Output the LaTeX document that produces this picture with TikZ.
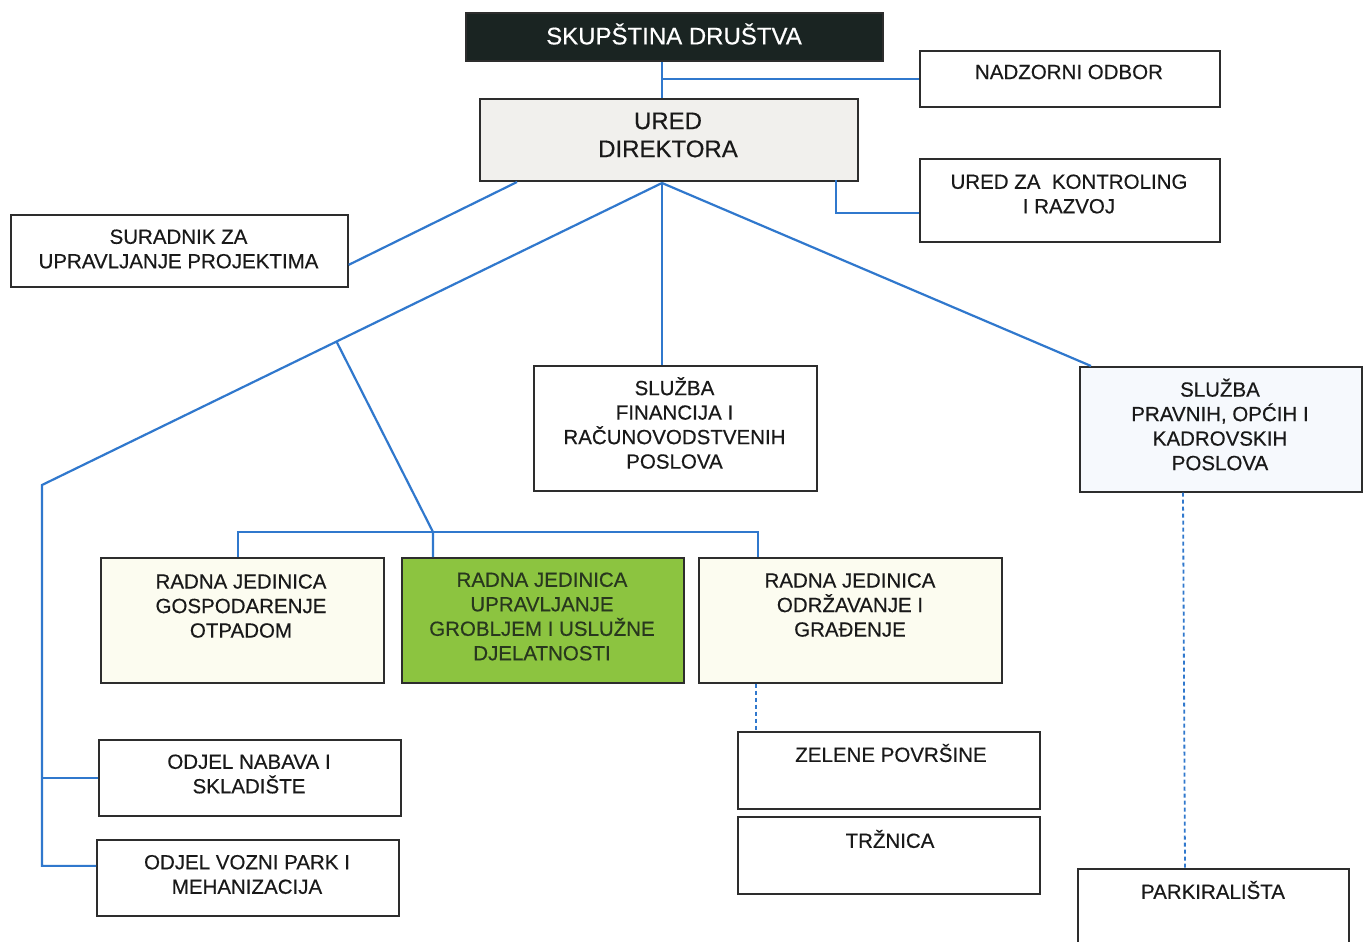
\documentclass[tikz,border=0pt]{standalone}
\usepackage{fontspec}
\setmainfont{Liberation Sans}[FakeBold=0.4]
\usetikzlibrary{calc}
\definecolor{linkblue}{RGB}{48,120,205}
\definecolor{boxline}{RGB}{45,45,45}
\definecolor{darkbox}{RGB}{26,36,34}
\definecolor{uredfill}{RGB}{241,240,237}
\definecolor{pravfill}{RGB}{246,249,253}
\definecolor{creamfill}{RGB}{252,252,240}
\definecolor{greenfill}{RGB}{140,196,64}
\definecolor{greentext}{RGB}{40,55,30}
\begin{document}
\begin{tikzpicture}[x=1pt,y=-1pt,
  box/.style={draw=boxline, line width=1.7pt, fill=white, anchor=north west, inner sep=0pt},
  txt/.style={inner sep=0pt, align=center, text=black!90, font=\fontsize{20.5}{24.5}\selectfont},
  link/.style={draw=linkblue, line width=2.2pt},
  dlink/.style={draw=linkblue, line width=1.8pt, dash pattern=on 4pt off 3pt}]
\useasboundingbox (0,0) rectangle (1368,942);
\fill[white] (0,0) rectangle (1368,942);

% boxes
\node[box, fill=darkbox, minimum width=417pt, minimum height=48pt] (skup) at (465,12) {};
\node[txt, text=white, font=\fontsize{24}{28}\selectfont] (skupT) at (674,34) {SKUP\v{S}TINA DRU\v{S}TVA};
\node[box, minimum width=300pt, minimum height=56pt] (nadz) at (919,50) {};
\node[txt] (nadzT) at (1069,72) {NADZORNI ODBOR};
\node[box, fill=uredfill, minimum width=378pt, minimum height=82pt] (ured) at (479,98) {};
\node[txt, font=\fontsize{24}{28}\selectfont] (uredT) at (668,135) {URED\\DIREKTORA};
\node[box, minimum width=300pt, minimum height=83pt] (kont) at (919,158) {};
\node[txt] (kontT) at (1069,194) {URED ZA\ \ KONTROLING\\I RAZVOJ};
\node[box, minimum width=337pt, minimum height=72pt] (sur) at (10,214) {};
\node[txt] (surT) at (178.5,249) {SURADNIK ZA\\UPRAVLJANJE PROJEKTIMA};
\node[box, minimum width=283pt, minimum height=125pt] (fin) at (533,365) {};
\node[txt] (finT) at (674.5,423) {SLU\v{Z}BA\\FINANCIJA I\\RA\v{C}UNOVODSTVENIH\\POSLOVA};
\node[box, fill=pravfill, minimum width=282pt, minimum height=125pt] (prav) at (1079,366) {};
\node[txt] (pravT) at (1220,424.5) {SLU\v{Z}BA\\PRAVNIH, OP\'CIH I\\KADROVSKIH\\POSLOVA};
\node[box, fill=creamfill, minimum width=283pt, minimum height=125pt] (gosp) at (100,557) {};
\node[txt] (gospT) at (241,606) {RADNA JEDINICA\\GOSPODARENJE\\OTPADOM};
\node[box, fill=greenfill, minimum width=282pt, minimum height=125pt] (upr) at (401,557) {};
\node[txt, text=greentext] (uprT) at (542,616.5) {RADNA JEDINICA\\UPRAVLJANJE\\GROBLJEM I USLU\v{Z}NE\\DJELATNOSTI};
\node[box, fill=creamfill, minimum width=303pt, minimum height=125pt] (odr) at (698,557) {};
\node[txt] (odrT) at (850,605) {RADNA JEDINICA\\ODR\v{Z}AVANJE I\\GRA\DJ ENJE};
\node[box, minimum width=302pt, minimum height=76pt] (nab) at (98,739) {};
\node[txt] (nabT) at (249,774) {ODJEL NABAVA I\\SKLADI\v{S}TE};
\node[box, minimum width=302pt, minimum height=76pt] (voz) at (96,839) {};
\node[txt] (vozT) at (247,874.5) {ODJEL VOZNI PARK I\\MEHANIZACIJA};
\node[box, minimum width=302pt, minimum height=77pt] (zel) at (737,731) {};
\node[txt] (zelT) at (891,753) {ZELENE POVR\v{S}INE};
\node[box, minimum width=302pt, minimum height=77pt] (trz) at (737,816) {};
\node[txt] (trzT) at (890,839) {TR\v{Z}NICA};
\node[box, minimum width=271pt, minimum height=100pt] (park) at (1077,868) {};
\node[txt] (parkT) at (1213,890) {PARKIRALI\v{S}TA};

% connectors
\coordinate (apex) at (662,183);
\coordinate (j1) at (662,79);
\coordinate (k1) at (836,180);
\coordinate (s1) at (517,182);
\coordinate (lc) at (42,485);
\coordinate (b1) at ($(apex)!0.525!(lc)$);
\coordinate (bus) at (433,532);

\draw[link] (skup.south -| apex) -- (ured.north -| apex);
\draw[link] (j1) -- (j1 -| nadz.west);
\draw[link] (k1) |- ([yshift=-12.5pt]kont.west);
\draw[link] (s1) -- ([yshift=-14pt]sur.east);
\draw[link] (apex) -- (fin.north -| apex);
\draw[link] (apex) -- ([xshift=12pt]prav.north west);
\draw[link] (apex) -- (lc) |- ([yshift=12pt]voz.west);
\draw[link] (lc |- nab.west) -- (nab.west);
\draw[link] (b1) -- (bus) -- ([xshift=32pt]upr.north west);
\draw[link] ([xshift=-4pt]gosp.north) -- ++(0,-25) -| ([xshift=60pt]odr.north west);
\draw[dlink] ([xshift=58pt]odr.south west) -- ([xshift=19pt]zel.north west);
\draw[dlink] ([xshift=104pt]prav.south west) -- ([xshift=108pt]park.north west);
\end{tikzpicture}
\end{document}
